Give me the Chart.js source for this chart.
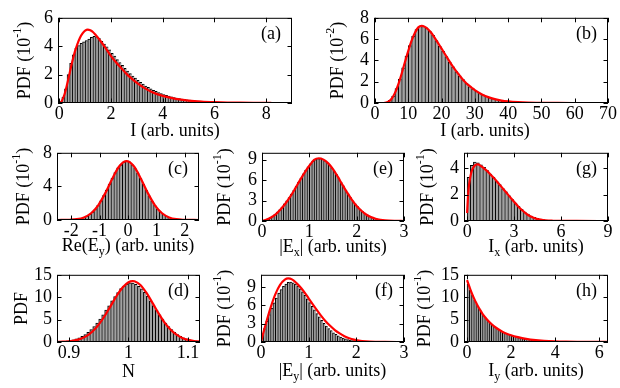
<!DOCTYPE html>
<html>
<head>
<meta charset="utf-8">
<script src="https://cdn.jsdelivr.net/npm/chart.js@4.4.1/dist/chart.umd.min.js"></script>
<style>
  body { margin: 0; background: #fff; }
  #fig { position: relative; width: 620px; height: 388px; overflow: hidden; }
  #fig canvas { position: absolute; }
</style>
</head>
<body>
<div id="fig"></div>
<script>
// ---- data ----
// (a) total intensity I, units of 1e-1
const aBinX = [0.05,0.15,0.25,0.35,0.45,0.55,0.65,0.75,0.85,0.95,1.05,1.15,1.25,1.35,1.45,1.55,1.65,1.75,1.85,1.95,
  2.05,2.15,2.25,2.35,2.45,2.55,2.65,2.75,2.85,2.95,3.05,3.15,3.25,3.35,3.45,3.55,3.65,3.75,3.85,3.95,
  4.05,4.15,4.25,4.35,4.45,4.55,4.65,4.75,4.85,4.95,5.05,5.15,5.25,5.35,5.45,5.55,5.65,5.75,5.85,5.95,
  6.05,6.15,6.25,6.35,6.45,6.55,6.65,6.75,6.85,6.95,7.05,7.15,7.25,7.35,7.45,7.55,7.65,7.75,7.85,7.95];
const aBinY = [0.1,0.4,1.0,2.0,2.8,3.4,3.85,4.05,4.2,4.3,4.4,4.5,4.62,4.7,4.68,4.55,4.35,4.15,3.95,3.75,
  3.5,3.3,3.05,2.85,2.65,2.45,2.25,2.07,1.9,1.75,1.6,1.45,1.33,1.2,1.1,1.0,0.9,0.82,0.74,0.66,
  0.6,0.54,0.48,0.43,0.39,0.35,0.31,0.28,0.25,0.22,0.2,0.18,0.16,0.14,0.13,0.11,0.1,0.09,0.08,0.07,
  0.065,0.058,0.052,0.046,0.04,0.036,0.032,0.028,0.025,0.022,0.02,0.018,0.016,0.014,0.012,0.011,0.01,0.009,0.008,0.007];
const aFitX = [0.05,0.1,0.2,0.3,0.4,0.5,0.6,0.7,0.8,0.9,1.0,1.1,1.2,1.3,1.4,1.6,1.8,2.0,2.2,2.4,
  2.6,2.8,3.0,3.3,3.6,4.0,4.5,5.0,5.5,6.0,6.5,7.0,7.5,8.2];
const aFitY = [0,0.15,0.6,1.3,2.1,2.9,3.6,4.15,4.6,4.9,5.1,5.17,5.12,5.0,4.8,4.35,3.85,3.3,2.85,2.45,
  2.05,1.72,1.42,1.05,0.76,0.5,0.29,0.17,0.1,0.06,0.035,0.02,0.012,0.006];
const aXTicks = [0,2,4,6,8];
const aYTicks = [0,2,4,6];

// (b) total intensity I, units of 1e-2
const bBinX = [0.5,1.5,2.5,3.5,4.5,5.5,6.5,7.5,8.5,9.5,10.5,11.5,12.5,13.5,14.5,15.5,16.5,17.5,18.5,19.5,
  20.5,21.5,22.5,23.5,24.5,25.5,26.5,27.5,28.5,29.5,30.5,31.5,32.5,33.5,34.5,35.5,36.5,37.5,38.5,39.5,
  40.5,41.5,42.5,43.5,44.5,45.5,46.5,47.5,48.5,49.5,50.5,51.5,52.5,53.5,54.5,55.5,56.5,57.5,58.5,59.5];
const bBinY = [0,0,0.01,0.06,0.25,0.65,1.35,2.25,3.3,4.4,5.4,6.25,6.9,7.2,7.2,7.05,6.75,6.35,5.85,5.35,
  4.85,4.35,3.85,3.4,2.95,2.55,2.2,1.85,1.55,1.32,1.1,0.92,0.76,0.63,0.52,0.42,0.34,0.27,0.22,0.18,
  0.14,0.11,0.09,0.07,0.055,0.045,0.035,0.028,0.022,0.017,0.013,0.01,0.008,0.006,0.005,0.004,0.003,0.002,0.002,0.001];
const bFitX = [0,2,3,4,5,6,7,8,9,10,11,12,13,14,15,16,17,18,19,20,21,22,23,24,25,26,27,28,29,30,
  32,34,36,38,40,43,46,50,55,60,70];
const bFitY = [0,0,0.02,0.12,0.4,0.95,1.75,2.75,3.85,4.9,5.85,6.6,7.1,7.25,7.15,6.9,6.55,6.1,5.6,5.1,
  4.6,4.1,3.6,3.15,2.75,2.35,2.0,1.7,1.45,1.2,0.82,0.55,0.36,0.23,0.15,0.08,0.04,0.018,0.006,0.002,0];
const bXTicks = [0,10,20,30,40,50,60,70];
const bYTicks = [0,2,4,6,8];

// (c) Re(Ey)
const cBinX = [-2.45,-2.35,-2.25,-2.15,-2.05,-1.95,-1.85,-1.75,-1.65,-1.55,-1.45,-1.35,-1.25,-1.15,-1.05,-0.95,-0.85,-0.75,-0.65,-0.55,
  -0.45,-0.35,-0.25,-0.15,-0.05,0.05,0.15,0.25,0.35,0.45,0.55,0.65,0.75,0.85,0.95,1.05,1.15,1.25,1.35,1.45,
  1.55,1.65,1.75,1.85,1.95,2.05,2.15,2.25,2.35,2.45];
const cBinY = [0.002,0.004,0.008,0.015,0.027,0.047,0.078,0.13,0.2,0.31,0.46,0.67,0.95,1.3,1.75,2.27,2.9,3.55,4.28,4.95,
  5.65,6.2,6.58,6.9,7.0,6.92,6.6,6.18,5.62,4.95,4.25,3.52,2.88,2.25,1.75,1.3,0.95,0.67,0.46,0.31,
  0.2,0.13,0.078,0.047,0.027,0.015,0.008,0.004,0.002,0.001];
const cFitX = [-2.5,-2.05,-1.8,-1.55,-1.3,-1.05,-0.8,-0.55,-0.3,-0.05,0.2,0.45,0.7,0.95,1.2,1.45,1.7,1.95,2.5];
const cFitY = [0,0.03,0.1,0.31,0.8,1.75,3.2,4.95,6.42,7.0,6.42,4.95,3.2,1.75,0.8,0.31,0.1,0.03,0];
const cXTicks = [-2,-1,0,1,2];
const cYTicks = [0,4,8];

// (e) |Ex|
const eBinX = [0.025,0.075,0.125,0.175,0.225,0.275,0.325,0.375,0.425,0.475,0.525,0.575,0.625,0.675,0.725,0.775,0.825,0.875,0.925,0.975,
  1.025,1.075,1.125,1.175,1.225,1.275,1.325,1.375,1.425,1.475,1.525,1.575,1.625,1.675,1.725,1.775,1.825,1.875,1.925,1.975,
  2.025,2.075,2.125,2.175,2.225,2.275,2.325,2.375,2.425,2.475,2.525,2.575,2.625,2.675,2.725,2.775,2.825,2.875,2.925,2.975];
const eBinY = [0.05,0.15,0.32,0.5,0.72,0.98,1.3,1.65,2.05,2.5,2.95,3.45,3.95,4.5,5.1,5.7,6.3,6.9,7.45,7.95,
  8.4,8.75,9.0,9.15,9.15,9.05,8.85,8.6,8.25,7.85,7.35,6.85,6.3,5.7,5.15,4.55,4.0,3.45,2.95,2.5,
  2.1,1.75,1.42,1.15,0.9,0.7,0.54,0.41,0.3,0.22,0.16,0.11,0.08,0.055,0.035,0.022,0.014,0.008,0.005,0.003];
const eFitX = [0,0.1,0.2,0.3,0.4,0.5,0.6,0.7,0.8,0.9,1.0,1.1,1.2,1.3,1.4,1.5,1.6,1.7,1.8,1.9,
  2.0,2.1,2.2,2.3,2.4,2.5,2.6,2.8,3.0];
const eFitY = [0,0.2,0.55,1.05,1.75,2.6,3.6,4.75,5.95,7.1,8.1,8.95,9.2,9.0,8.45,7.6,6.5,5.3,4.15,3.1,
  2.2,1.5,0.95,0.57,0.32,0.17,0.08,0.015,0.002];
const eXTicks = [0,1,2,3];
const eYTicks = [0,3,6,9];

// (g) Ix
const gBinX = [0.1,0.3,0.5,0.7,0.9,1.1,1.3,1.5,1.7,1.9,2.1,2.3,2.5,2.7,2.9,3.1,3.3,3.5,3.7,3.9,
  4.1,4.3,4.5,4.7,4.9,5.1,5.3,5.5,5.7,5.9,6.1,6.3,6.5,6.7,6.9];
const gBinY = [3.3,4.2,4.45,4.4,4.25,4.05,3.8,3.55,3.3,3.0,2.75,2.45,2.2,1.9,1.62,1.35,1.1,0.88,0.68,0.52,
  0.38,0.28,0.2,0.14,0.1,0.07,0.05,0.035,0.025,0.017,0.012,0.008,0.005,0.004,0.003];
const gFitX = [0,0.05,0.1,0.2,0.3,0.4,0.5,0.6,0.7,0.8,1.0,1.25,1.5,1.75,2.0,2.25,2.5,2.75,3.0,3.25,
  3.5,3.75,4.0,4.5,5.0,5.5,6.0,7.0,9.0];
const gFitY = [0.6,1.7,2.5,3.3,3.8,4.05,4.2,4.27,4.28,4.22,4.05,3.8,3.5,3.2,2.85,2.5,2.15,1.8,1.45,1.12,
  0.83,0.58,0.38,0.14,0.05,0.02,0.008,0.002,0];
const gXTicks = [0,3,6,9];
const gYTicks = [0,2,4];

// (d) N
const dBinX = [0.8825,0.8875,0.8925,0.8975,0.9025,0.9075,0.9125,0.9175,0.9225,0.9275,0.9325,0.9375,0.9425,0.9475,0.9525,0.9575,
  0.9625,0.9675,0.9725,0.9775,0.9825,0.9875,0.9925,0.9975,1.0025,1.0075,1.0125,1.0175,1.0225,1.0275,1.0325,1.0375,
  1.0425,1.0475,1.0525,1.0575,1.0625,1.0675,1.0725,1.0775,1.0825,1.0875,1.0925,1.0975,1.1025,1.1075,1.1125,1.1175];
const dBinY = [0.07,0.11,0.16,0.24,0.35,0.5,0.68,0.95,1.25,1.68,2.15,2.75,3.45,4.2,5.1,6.05,
  7.1,8.1,9.2,10.15,11.05,11.9,12.5,12.95,13.2,13.15,12.9,12.45,11.85,11.1,10.2,9.2,
  8.15,7.1,6.05,5.1,4.25,3.45,2.75,2.15,1.65,1.25,0.93,0.68,0.49,0.35,0.24,0.17];
const dFitX = [0.88,0.89,0.90,0.91,0.92,0.93,0.94,0.95,0.96,0.97,0.98,0.99,1.0,1.007,1.01,1.02,1.03,1.04,1.05,1.06,
  1.07,1.08,1.09,1.10,1.11,1.12];
const dFitY = [0.027,0.07,0.163,0.36,0.73,1.38,2.41,3.88,5.8,8.02,10.27,12.16,13.35,13.6,13.55,12.74,11.0,8.8,6.5,4.45,
  2.85,1.68,0.92,0.47,0.22,0.1];
const dXTicks = [0.9,1,1.1];
const dYTicks = [0,5,10,15];

// (f) |Ey|
const fBinX = [0.025,0.075,0.125,0.175,0.225,0.275,0.325,0.375,0.425,0.475,0.525,0.575,0.625,0.675,0.725,0.775,0.825,0.875,0.925,0.975,
  1.025,1.075,1.125,1.175,1.225,1.275,1.325,1.375,1.425,1.475,1.525,1.575,1.625,1.675,1.725,1.775,1.825,1.875,1.925,1.975,
  2.025,2.075,2.125,2.175,2.225,2.275,2.325,2.375,2.425,2.475];
const fBinY = [0.8,2.2,3.4,4.5,5.5,6.4,7.2,8.0,8.6,9.1,9.5,9.75,9.8,9.7,9.5,9.15,8.7,8.2,7.65,7.05,
  6.45,5.85,5.25,4.65,4.1,3.55,3.05,2.6,2.2,1.85,1.52,1.25,1.0,0.8,0.63,0.5,0.38,0.29,0.22,0.16,
  0.12,0.09,0.065,0.045,0.032,0.022,0.015,0.01,0.007,0.005];
const fFitX = [0,0.05,0.1,0.2,0.3,0.4,0.5,0.57,0.65,0.75,0.85,0.95,1.05,1.15,1.25,1.35,1.45,1.55,1.65,1.75,
  1.85,1.95,2.05,2.2,2.4,2.6,3.0];
const fFitY = [0,1.5,2.95,5.6,7.8,9.35,10.2,10.4,10.25,9.6,8.75,7.7,6.55,5.45,4.4,3.45,2.65,1.95,1.4,0.95,
  0.62,0.38,0.23,0.1,0.03,0.01,0];
const fXTicks = [0,1,2,3];
const fYTicks = [0,3,6,9];

// (h) Iy
const hBinX = [0.05,0.15,0.25,0.35,0.45,0.55,0.65,0.75,0.85,0.95,1.05,1.15,1.25,1.35,1.45,1.55,1.65,1.75,1.85,1.95,
  2.05,2.15,2.25,2.35,2.45,2.55,2.65,2.75,2.85,2.95,3.05,3.15,3.25,3.35,3.45,3.55,3.65,3.75,3.85,3.95,
  4.05,4.15,4.25,4.35,4.45,4.55,4.65,4.75,4.85,4.95,5.05,5.15,5.25,5.35,5.45,5.55,5.65,5.75,5.85,5.95,
  6.05,6.15,6.25,6.35];
const hBinY = [12.9,11.6,10.4,9.35,8.4,7.5,6.7,6.0,5.35,4.8,4.3,3.85,3.45,3.1,2.75,2.45,2.2,1.95,1.75,1.55,
  1.4,1.25,1.1,0.99,0.88,0.79,0.7,0.63,0.56,0.5,0.45,0.4,0.36,0.32,0.28,0.25,0.23,0.2,0.18,0.16,
  0.14,0.13,0.115,0.1,0.09,0.08,0.072,0.064,0.057,0.051,0.045,0.04,0.036,0.032,0.029,0.026,0.023,0.02,0.018,0.016,
  0.014,0.013,0.011,0.01];
const hFitX = [0,0.1,0.2,0.3,0.4,0.5,0.6,0.7,0.8,1.0,1.2,1.4,1.6,1.8,2.0,2.25,2.5,2.75,3.0,3.5,
  4.0,4.5,5.0,5.5,6.0,6.4];
const hFitY = [13.8,12.4,11.05,9.9,8.85,7.9,7.1,6.3,5.65,4.5,3.6,2.9,2.3,1.85,1.5,1.13,0.86,0.65,0.49,0.28,
  0.16,0.09,0.05,0.03,0.018,0.012];
const hXTicks = [0,2,4,6];
const hYTicks = [0,5,10,15];

// ---- drawing ----
const FONT = "'Liberation Serif', 'Times New Roman', serif";
const FS = 18, FS_SMALL = 12;

function setFont(ctx, kind) {
  ctx.font = (kind ? FS_SMALL : FS) + 'px ' + FONT;
}
function richWidth(ctx, parts) {
  let w = 0;
  parts.forEach(p => { setFont(ctx, p[1]); w += ctx.measureText(p[0]).width; });
  return w;
}
// draws text segments centred on (cx, cy); 'sup' / 'sub' get a smaller size
function drawRich(ctx, parts, cx, cy) {
  let x = cx - richWidth(ctx, parts) / 2;
  ctx.textAlign = 'left';
  ctx.textBaseline = 'middle';
  parts.forEach(p => {
    setFont(ctx, p[1]);
    let dy = p[1] === 'sup' ? -7 : p[1] === 'sub' ? 6 : 0;
    ctx.fillText(p[0], x, cy + dy);
    x += ctx.measureText(p[0]).width;
  });
}

const framePlugin = {
  id: 'frame',
  afterDatasetsDraw(chart, args, o) {
    const ctx = chart.ctx, ca = chart.chartArea;
    const xs = chart.scales.x, ys = chart.scales.y;
    const L = 4.5;
    ctx.save();
    ctx.strokeStyle = '#000';
    ctx.lineWidth = 1;
    ctx.beginPath();
    xs.ticks.forEach(t => {
      const px = Math.round(xs.getPixelForValue(t.value)) + 0.5;
      ctx.moveTo(px, ca.bottom); ctx.lineTo(px, ca.bottom - L);
      ctx.moveTo(px, ca.top); ctx.lineTo(px, ca.top + L);
    });
    ys.ticks.forEach(t => {
      const py = Math.round(ys.getPixelForValue(t.value)) + 0.5;
      ctx.moveTo(ca.left, py); ctx.lineTo(ca.left + L, py);
      ctx.moveTo(ca.right, py); ctx.lineTo(ca.right - L, py);
    });
    ctx.stroke();
    ctx.strokeRect(ca.left + 0.5, ca.top + 0.5, ca.right - ca.left - 1, ca.bottom - ca.top - 1);

    ctx.fillStyle = '#000';
    // panel tag
    setFont(ctx, '');
    ctx.textAlign = 'right';
    ctx.textBaseline = 'middle';
    ctx.fillText(o.tag, ca.right - 11, ca.top + 16);
    // x title
    drawRich(ctx, o.xTitle, (ca.left + ca.right) / 2 + (o.xShift || 0), ca.bottom + o.xOff);
    // y title, rotated
    ctx.translate(ca.left - o.yOff, (ca.top + ca.bottom) / 2);
    ctx.rotate(-Math.PI / 2);
    drawRich(ctx, o.yTitle, 0, 0);
    ctx.restore();
  }
};

const PDF1 = [['PDF (10', ''], ['-1', 'sup'], [')', '']];
const PDF2 = [['PDF (10', ''], ['-2', 'sup'], [')', '']];
const UNITS = [' (arb. units)', ''];

const panels = [
  { tag: '(a)', box: [58, 14, 292, 103], bx: aBinX, by: aBinY, fx: aFitX, fy: aFitY, xt: aXTicks, yt: aYTicks,
    xMin: -0.05, xMax: 9, yMax: 6, xTitle: [['I (arb. units)', '']], yTitle: PDF1, xOff: 28, yOff: 33 },
  { tag: '(b)', box: [374, 14, 608, 103], bx: bBinX, by: bBinY, fx: bFitX, fy: bFitY, xt: bXTicks, yt: bYTicks,
    xMin: -0.3, xMax: 70, yMax: 8, xTitle: [['I (arb. units)', '']], yTitle: PDF2, xOff: 28, yOff: 36, xShift: -6 },
  { tag: '(c)', box: [57, 149, 199, 220], bx: cBinX, by: cBinY, fx: cFitX, fy: cFitY, xt: cXTicks, yt: cYTicks,
    xMin: -2.5, xMax: 2.5, yMax: 8, xTitle: [['Re(E', ''], ['y', 'sub'], [')', ''], UNITS], yTitle: PDF1, xOff: 26, yOff: 33 },
  { tag: '(e)', box: [262, 149, 404, 221], bx: eBinX, by: eBinY, fx: eFitX, fy: eFitY, xt: eXTicks, yt: eYTicks,
    xMin: 0, xMax: 3, yMax: 10, xTitle: [['|E', ''], ['x', 'sub'], ['|', ''], UNITS], yTitle: PDF1, xOff: 26, yOff: 37 },
  { tag: '(g)', box: [464, 149, 608, 221], bx: gBinX, by: gBinY, fx: gFitX, fy: gFitY, xt: gXTicks, yt: gYTicks,
    xMin: -0.2, xMax: 9, yMax: 5.15, xTitle: [['I', ''], ['x', 'sub'], UNITS], yTitle: PDF1, xOff: 26, yOff: 36 },
  { tag: '(d)', box: [57, 271, 200, 342], bx: dBinX, by: dBinY, fx: dFitX, fy: dFitY, xt: dXTicks, yt: dYTicks,
    xMin: 0.88, xMax: 1.12, yMax: 15, xTitle: [['N', '']], yTitle: [['PDF', '']], xOff: 30, yOff: 35 },
  { tag: '(f)', box: [261, 271, 404, 342], bx: fBinX, by: fBinY, fx: fFitX, fy: fFitY, xt: fXTicks, yt: fYTicks,
    xMin: 0, xMax: 3, yMax: 11, xTitle: [['|E', ''], ['y', 'sub'], ['|', ''], UNITS], yTitle: PDF1, xOff: 29, yOff: 36 },
  { tag: '(h)', box: [464, 271, 608, 342], bx: hBinX, by: hBinY, fx: hFitX, fy: hFitY, xt: hXTicks, yt: hYTicks,
    xMin: -0.14, xMax: 6.4, yMax: 15, xTitle: [['I', ''], ['y', 'sub'], UNITS], yTitle: PDF1, xOff: 29, yOff: 39 }
];

const fig = document.getElementById('fig');
const fmt = v => String(Math.round(v * 1000) / 1000);

panels.forEach(p => {
  const [x0, y0, x1, y1] = p.box;
  const YW = 50, XH = 46, PT = 12, PR = 14;
  const cv = document.createElement('canvas');
  cv.width = x1 - x0 + YW + PR;
  cv.height = y1 - y0 + PT + XH;
  cv.style.left = (x0 - YW) + 'px';
  cv.style.top = (y0 - PT) + 'px';
  fig.appendChild(cv);

  new Chart(cv, {
    type: 'bar',
    data: {
      datasets: [{
        type: 'line',
        data: p.fx.map((v, i) => ({ x: v, y: p.fy[i] })),
        borderColor: '#ff0000',
        borderWidth: 2.2,
        pointRadius: 0,
        cubicInterpolationMode: 'monotone',
        order: 0
      }, {
        type: 'bar',
        data: p.bx.map((v, i) => ({ x: v, y: p.by[i] })),
        backgroundColor: '#a2a2a2',
        borderColor: '#000',
        borderWidth: { left: 1, top: 1, right: 0, bottom: 0 },
        borderSkipped: false,
        barPercentage: 1,
        categoryPercentage: 1,
        order: 1
      }]
    },
    options: {
      responsive: false,
      animation: false,
      events: [],
      layout: { padding: { left: 0, top: PT, right: PR, bottom: 0 } },
      plugins: {
        legend: { display: false },
        tooltip: { enabled: false },
        frame: { tag: p.tag, xTitle: p.xTitle, yTitle: p.yTitle, xOff: p.xOff, yOff: p.yOff, xShift: p.xShift }
      },
      scales: {
        x: {
          type: 'linear', min: p.xMin, max: p.xMax, offset: false,
          grid: { display: false, drawTicks: false, tickLength: 0 }, border: { display: false },
          afterBuildTicks: s => { s.ticks = p.xt.map(v => ({ value: v })); },
          afterFit: s => { s.height = XH; },
          ticks: { color: '#000', font: { family: FONT, size: FS }, padding: 0, maxRotation: 0, autoSkip: false, callback: fmt }
        },
        y: {
          min: 0, max: p.yMax,
          grid: { display: false, drawTicks: false, tickLength: 0 }, border: { display: false },
          afterBuildTicks: s => { s.ticks = p.yt.map(v => ({ value: v })); },
          afterFit: s => { s.width = YW; },
          ticks: { color: '#000', font: { family: FONT, size: FS }, padding: 5, autoSkip: false, callback: fmt }
        }
      }
    },
    plugins: [framePlugin]
  });
});
</script>
</body>
</html>
